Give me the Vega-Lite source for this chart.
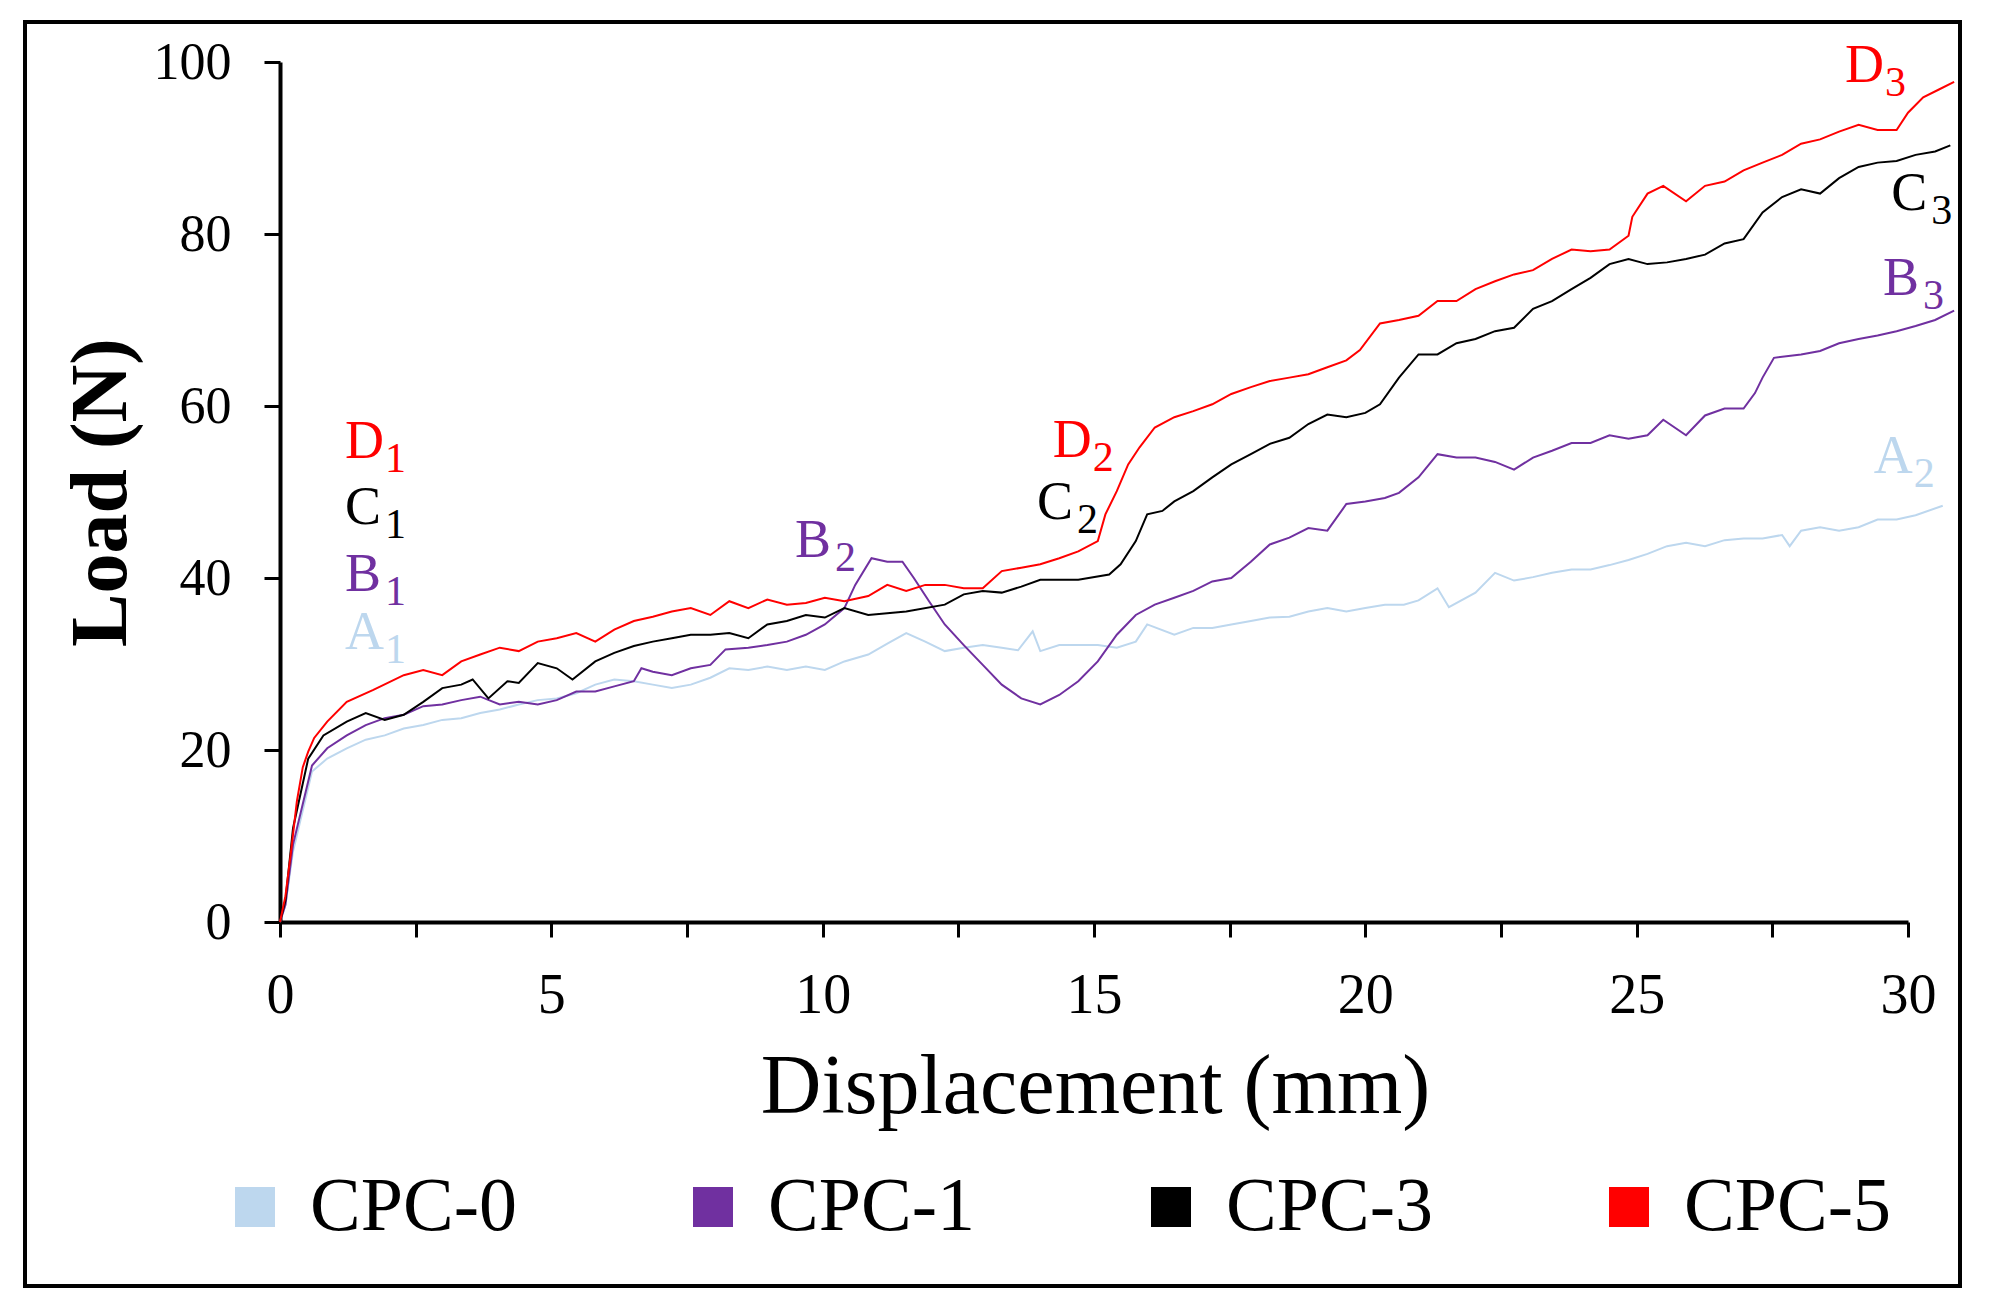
{
  "$schema": "https://vega.github.io/schema/vega-lite/v6.json",
  "description": "Load vs displacement for CPC-0, CPC-1, CPC-3 and CPC-5",
  "width": 1935,
  "height": 1264,
  "autosize": {"type": "none"},
  "padding": {"left": 25, "top": 22, "right": 40, "bottom": 27},
  "config": {
    "view": {"stroke": "#000000", "strokeWidth": 4},
    "font": "Liberation Serif",
    "axis": {"grid": false}
  },
  "datasets": {
    "curves": [
      {"s":"CPC-0","x":0,"y":0},{"s":"CPC-0","x":0.1,"y":2},{"s":"CPC-0","x":0.24,"y":8.2},{"s":"CPC-0","x":0.59,"y":17.5},
      {"s":"CPC-0","x":0.87,"y":19.0},{"s":"CPC-0","x":1.23,"y":20.2},{"s":"CPC-0","x":1.58,"y":21.2},{"s":"CPC-0","x":1.93,"y":21.7},
      {"s":"CPC-0","x":2.28,"y":22.5},{"s":"CPC-0","x":2.64,"y":22.9},{"s":"CPC-0","x":2.99,"y":23.5},{"s":"CPC-0","x":3.34,"y":23.7},
      {"s":"CPC-0","x":3.69,"y":24.3},{"s":"CPC-0","x":4.05,"y":24.7},{"s":"CPC-0","x":4.4,"y":25.3},{"s":"CPC-0","x":4.75,"y":25.8},
      {"s":"CPC-0","x":5.1,"y":26.0},{"s":"CPC-0","x":5.46,"y":26.6},{"s":"CPC-0","x":5.81,"y":27.6},{"s":"CPC-0","x":6.16,"y":28.2},
      {"s":"CPC-0","x":6.52,"y":28.0},{"s":"CPC-0","x":6.87,"y":27.6},{"s":"CPC-0","x":7.22,"y":27.2},{"s":"CPC-0","x":7.57,"y":27.6},
      {"s":"CPC-0","x":7.93,"y":28.4},{"s":"CPC-0","x":8.28,"y":29.5},{"s":"CPC-0","x":8.63,"y":29.3},{"s":"CPC-0","x":8.98,"y":29.7},
      {"s":"CPC-0","x":9.34,"y":29.3},{"s":"CPC-0","x":9.69,"y":29.7},{"s":"CPC-0","x":10.04,"y":29.3},{"s":"CPC-0","x":10.4,"y":30.3},
      {"s":"CPC-0","x":10.84,"y":31.1},{"s":"CPC-0","x":11.2,"y":32.4},{"s":"CPC-0","x":11.54,"y":33.6},{"s":"CPC-0","x":11.89,"y":32.6},
      {"s":"CPC-0","x":12.25,"y":31.5},{"s":"CPC-0","x":12.6,"y":31.9},{"s":"CPC-0","x":12.95,"y":32.2},{"s":"CPC-0","x":13.3,"y":31.9},
      {"s":"CPC-0","x":13.6,"y":31.6},{"s":"CPC-0","x":13.87,"y":33.8},{"s":"CPC-0","x":14.01,"y":31.5},{"s":"CPC-0","x":14.36,"y":32.2},
      {"s":"CPC-0","x":14.71,"y":32.2},{"s":"CPC-0","x":15.07,"y":32.2},{"s":"CPC-0","x":15.42,"y":31.9},{"s":"CPC-0","x":15.77,"y":32.6},
      {"s":"CPC-0","x":15.98,"y":34.6},{"s":"CPC-0","x":16.48,"y":33.4},{"s":"CPC-0","x":16.83,"y":34.2},{"s":"CPC-0","x":17.18,"y":34.2},
      {"s":"CPC-0","x":17.53,"y":34.6},{"s":"CPC-0","x":17.89,"y":35.0},{"s":"CPC-0","x":18.24,"y":35.4},{"s":"CPC-0","x":18.6,"y":35.5},
      {"s":"CPC-0","x":18.95,"y":36.1},{"s":"CPC-0","x":19.3,"y":36.5},{"s":"CPC-0","x":19.65,"y":36.1},{"s":"CPC-0","x":20.0,"y":36.5},
      {"s":"CPC-0","x":20.36,"y":36.9},{"s":"CPC-0","x":20.71,"y":36.9},{"s":"CPC-0","x":20.98,"y":37.4},{"s":"CPC-0","x":21.33,"y":38.8},
      {"s":"CPC-0","x":21.54,"y":36.6},{"s":"CPC-0","x":22.03,"y":38.3},{"s":"CPC-0","x":22.39,"y":40.6},{"s":"CPC-0","x":22.74,"y":39.7},
      {"s":"CPC-0","x":23.09,"y":40.1},{"s":"CPC-0","x":23.44,"y":40.6},{"s":"CPC-0","x":23.8,"y":41.0},{"s":"CPC-0","x":24.15,"y":41.0},
      {"s":"CPC-0","x":24.5,"y":41.5},{"s":"CPC-0","x":24.85,"y":42.1},{"s":"CPC-0","x":25.2,"y":42.8},{"s":"CPC-0","x":25.56,"y":43.7},
      {"s":"CPC-0","x":25.91,"y":44.1},{"s":"CPC-0","x":26.26,"y":43.7},{"s":"CPC-0","x":26.62,"y":44.4},{"s":"CPC-0","x":26.97,"y":44.6},
      {"s":"CPC-0","x":27.32,"y":44.6},{"s":"CPC-0","x":27.68,"y":45.0},{"s":"CPC-0","x":27.82,"y":43.7},{"s":"CPC-0","x":28.03,"y":45.5},
      {"s":"CPC-0","x":28.38,"y":45.9},{"s":"CPC-0","x":28.73,"y":45.5},{"s":"CPC-0","x":29.09,"y":45.9},{"s":"CPC-0","x":29.44,"y":46.8},
      {"s":"CPC-0","x":29.79,"y":46.8},{"s":"CPC-0","x":30.14,"y":47.3},{"s":"CPC-0","x":30.64,"y":48.4},

      {"s":"CPC-1","x":0,"y":0},{"s":"CPC-1","x":0.1,"y":2},{"s":"CPC-1","x":0.24,"y":9},{"s":"CPC-1","x":0.59,"y":18.2},
      {"s":"CPC-1","x":0.87,"y":20.2},{"s":"CPC-1","x":1.23,"y":21.7},{"s":"CPC-1","x":1.58,"y":22.9},{"s":"CPC-1","x":1.93,"y":23.7},
      {"s":"CPC-1","x":2.28,"y":24.1},{"s":"CPC-1","x":2.64,"y":25.1},{"s":"CPC-1","x":2.99,"y":25.3},{"s":"CPC-1","x":3.34,"y":25.8},
      {"s":"CPC-1","x":3.69,"y":26.2},{"s":"CPC-1","x":4.05,"y":25.3},{"s":"CPC-1","x":4.4,"y":25.6},{"s":"CPC-1","x":4.75,"y":25.3},
      {"s":"CPC-1","x":5.1,"y":25.8},{"s":"CPC-1","x":5.46,"y":26.8},{"s":"CPC-1","x":5.81,"y":26.8},{"s":"CPC-1","x":6.16,"y":27.4},
      {"s":"CPC-1","x":6.52,"y":28.0},{"s":"CPC-1","x":6.66,"y":29.5},{"s":"CPC-1","x":6.87,"y":29.1},{"s":"CPC-1","x":7.22,"y":28.7},
      {"s":"CPC-1","x":7.57,"y":29.5},{"s":"CPC-1","x":7.93,"y":29.9},{"s":"CPC-1","x":8.21,"y":31.7},{"s":"CPC-1","x":8.63,"y":31.9},
      {"s":"CPC-1","x":8.98,"y":32.2},{"s":"CPC-1","x":9.34,"y":32.6},{"s":"CPC-1","x":9.69,"y":33.4},{"s":"CPC-1","x":10.04,"y":34.6},
      {"s":"CPC-1","x":10.4,"y":36.5},{"s":"CPC-1","x":10.6,"y":39.2},{"s":"CPC-1","x":10.9,"y":42.3},{"s":"CPC-1","x":11.19,"y":41.9},
      {"s":"CPC-1","x":11.47,"y":41.9},{"s":"CPC-1","x":11.68,"y":40.0},{"s":"CPC-1","x":11.96,"y":37.3},{"s":"CPC-1","x":12.25,"y":34.6},
      {"s":"CPC-1","x":12.6,"y":32.2},{"s":"CPC-1","x":12.95,"y":29.9},{"s":"CPC-1","x":13.3,"y":27.6},{"s":"CPC-1","x":13.66,"y":26.0},
      {"s":"CPC-1","x":14.01,"y":25.3},{"s":"CPC-1","x":14.36,"y":26.4},{"s":"CPC-1","x":14.71,"y":28.0},{"s":"CPC-1","x":15.07,"y":30.3},
      {"s":"CPC-1","x":15.42,"y":33.4},{"s":"CPC-1","x":15.77,"y":35.7},{"s":"CPC-1","x":16.12,"y":36.9},{"s":"CPC-1","x":16.48,"y":37.7},
      {"s":"CPC-1","x":16.83,"y":38.5},{"s":"CPC-1","x":17.18,"y":39.6},{"s":"CPC-1","x":17.53,"y":40.0},{"s":"CPC-1","x":17.89,"y":41.9},
      {"s":"CPC-1","x":18.24,"y":43.9},{"s":"CPC-1","x":18.6,"y":44.7},{"s":"CPC-1","x":18.95,"y":45.8},{"s":"CPC-1","x":19.3,"y":45.5},
      {"s":"CPC-1","x":19.65,"y":48.6},{"s":"CPC-1","x":20.0,"y":48.9},{"s":"CPC-1","x":20.36,"y":49.3},{"s":"CPC-1","x":20.62,"y":49.9},
      {"s":"CPC-1","x":20.98,"y":51.7},{"s":"CPC-1","x":21.33,"y":54.4},{"s":"CPC-1","x":21.68,"y":54.0},{"s":"CPC-1","x":22.03,"y":54.0},
      {"s":"CPC-1","x":22.39,"y":53.5},{"s":"CPC-1","x":22.74,"y":52.6},{"s":"CPC-1","x":23.09,"y":54.0},{"s":"CPC-1","x":23.44,"y":54.8},
      {"s":"CPC-1","x":23.8,"y":55.7},{"s":"CPC-1","x":24.15,"y":55.7},{"s":"CPC-1","x":24.5,"y":56.6},{"s":"CPC-1","x":24.85,"y":56.2},
      {"s":"CPC-1","x":25.2,"y":56.6},{"s":"CPC-1","x":25.49,"y":58.4},{"s":"CPC-1","x":25.91,"y":56.6},{"s":"CPC-1","x":26.26,"y":58.9},
      {"s":"CPC-1","x":26.62,"y":59.7},{"s":"CPC-1","x":26.97,"y":59.7},{"s":"CPC-1","x":27.18,"y":61.5},{"s":"CPC-1","x":27.32,"y":63.3},
      {"s":"CPC-1","x":27.53,"y":65.6},{"s":"CPC-1","x":28.03,"y":66.0},{"s":"CPC-1","x":28.38,"y":66.4},{"s":"CPC-1","x":28.73,"y":67.3},
      {"s":"CPC-1","x":29.09,"y":67.8},{"s":"CPC-1","x":29.44,"y":68.2},{"s":"CPC-1","x":29.79,"y":68.7},{"s":"CPC-1","x":30.14,"y":69.3},
      {"s":"CPC-1","x":30.5,"y":70.0},{"s":"CPC-1","x":30.85,"y":71.1},

      {"s":"CPC-3","x":0,"y":0},{"s":"CPC-3","x":0.1,"y":2.5},{"s":"CPC-3","x":0.24,"y":10.9},{"s":"CPC-3","x":0.52,"y":19.0},
      {"s":"CPC-3","x":0.8,"y":21.7},{"s":"CPC-3","x":1.23,"y":23.3},{"s":"CPC-3","x":1.58,"y":24.3},{"s":"CPC-3","x":1.93,"y":23.5},
      {"s":"CPC-3","x":2.28,"y":24.1},{"s":"CPC-3","x":2.64,"y":25.6},{"s":"CPC-3","x":2.99,"y":27.2},{"s":"CPC-3","x":3.34,"y":27.6},
      {"s":"CPC-3","x":3.55,"y":28.2},{"s":"CPC-3","x":3.84,"y":26.0},{"s":"CPC-3","x":4.19,"y":28.0},{"s":"CPC-3","x":4.4,"y":27.8},
      {"s":"CPC-3","x":4.75,"y":30.1},{"s":"CPC-3","x":5.1,"y":29.5},{"s":"CPC-3","x":5.39,"y":28.2},{"s":"CPC-3","x":5.81,"y":30.3},
      {"s":"CPC-3","x":6.16,"y":31.3},{"s":"CPC-3","x":6.52,"y":32.1},{"s":"CPC-3","x":6.87,"y":32.6},{"s":"CPC-3","x":7.22,"y":33.0},
      {"s":"CPC-3","x":7.57,"y":33.4},{"s":"CPC-3","x":7.93,"y":33.4},{"s":"CPC-3","x":8.28,"y":33.6},{"s":"CPC-3","x":8.63,"y":33.0},
      {"s":"CPC-3","x":8.98,"y":34.6},{"s":"CPC-3","x":9.34,"y":35.0},{"s":"CPC-3","x":9.69,"y":35.7},{"s":"CPC-3","x":10.04,"y":35.4},
      {"s":"CPC-3","x":10.4,"y":36.5},{"s":"CPC-3","x":10.84,"y":35.7},{"s":"CPC-3","x":11.54,"y":36.1},{"s":"CPC-3","x":12.25,"y":36.9},
      {"s":"CPC-3","x":12.6,"y":38.1},{"s":"CPC-3","x":12.95,"y":38.5},{"s":"CPC-3","x":13.3,"y":38.3},{"s":"CPC-3","x":13.66,"y":39.0},
      {"s":"CPC-3","x":14.01,"y":39.8},{"s":"CPC-3","x":14.36,"y":39.8},{"s":"CPC-3","x":14.71,"y":39.8},{"s":"CPC-3","x":15.28,"y":40.4},
      {"s":"CPC-3","x":15.49,"y":41.6},{"s":"CPC-3","x":15.77,"y":44.3},{"s":"CPC-3","x":15.98,"y":47.4},{"s":"CPC-3","x":16.26,"y":47.8},
      {"s":"CPC-3","x":16.48,"y":48.9},{"s":"CPC-3","x":16.83,"y":50.1},{"s":"CPC-3","x":17.18,"y":51.7},{"s":"CPC-3","x":17.53,"y":53.2},
      {"s":"CPC-3","x":17.89,"y":54.4},{"s":"CPC-3","x":18.24,"y":55.6},{"s":"CPC-3","x":18.6,"y":56.3},{"s":"CPC-3","x":18.95,"y":57.9},
      {"s":"CPC-3","x":19.3,"y":59.0},{"s":"CPC-3","x":19.65,"y":58.7},{"s":"CPC-3","x":20.0,"y":59.2},{"s":"CPC-3","x":20.27,"y":60.2},
      {"s":"CPC-3","x":20.62,"y":63.3},{"s":"CPC-3","x":20.98,"y":66.0},{"s":"CPC-3","x":21.33,"y":66.0},{"s":"CPC-3","x":21.68,"y":67.3},
      {"s":"CPC-3","x":22.03,"y":67.8},{"s":"CPC-3","x":22.39,"y":68.7},{"s":"CPC-3","x":22.74,"y":69.1},{"s":"CPC-3","x":23.09,"y":71.3},
      {"s":"CPC-3","x":23.44,"y":72.2},{"s":"CPC-3","x":23.8,"y":73.6},{"s":"CPC-3","x":24.15,"y":74.9},{"s":"CPC-3","x":24.5,"y":76.5},
      {"s":"CPC-3","x":24.85,"y":77.1},{"s":"CPC-3","x":25.2,"y":76.5},{"s":"CPC-3","x":25.56,"y":76.7},{"s":"CPC-3","x":25.91,"y":77.1},
      {"s":"CPC-3","x":26.26,"y":77.6},{"s":"CPC-3","x":26.62,"y":78.9},{"s":"CPC-3","x":26.97,"y":79.4},{"s":"CPC-3","x":27.32,"y":82.5},
      {"s":"CPC-3","x":27.68,"y":84.3},{"s":"CPC-3","x":28.03,"y":85.2},{"s":"CPC-3","x":28.38,"y":84.7},{"s":"CPC-3","x":28.73,"y":86.5},
      {"s":"CPC-3","x":29.09,"y":87.8},{"s":"CPC-3","x":29.44,"y":88.3},{"s":"CPC-3","x":29.79,"y":88.5},{"s":"CPC-3","x":30.14,"y":89.2},
      {"s":"CPC-3","x":30.5,"y":89.6},{"s":"CPC-3","x":30.78,"y":90.3},

      {"s":"CPC-5","x":0,"y":0},{"s":"CPC-5","x":0.1,"y":3},{"s":"CPC-5","x":0.2,"y":8},{"s":"CPC-5","x":0.31,"y":14},
      {"s":"CPC-5","x":0.42,"y":18},{"s":"CPC-5","x":0.52,"y":19.8},{"s":"CPC-5","x":0.63,"y":21.4},{"s":"CPC-5","x":0.87,"y":23.3},
      {"s":"CPC-5","x":1.23,"y":25.6},{"s":"CPC-5","x":1.72,"y":27.0},{"s":"CPC-5","x":2.28,"y":28.7},{"s":"CPC-5","x":2.64,"y":29.3},
      {"s":"CPC-5","x":2.99,"y":28.7},{"s":"CPC-5","x":3.34,"y":30.3},{"s":"CPC-5","x":3.69,"y":31.1},{"s":"CPC-5","x":4.05,"y":31.9},
      {"s":"CPC-5","x":4.4,"y":31.5},{"s":"CPC-5","x":4.75,"y":32.6},{"s":"CPC-5","x":5.1,"y":33.0},{"s":"CPC-5","x":5.46,"y":33.6},
      {"s":"CPC-5","x":5.81,"y":32.6},{"s":"CPC-5","x":6.16,"y":34.0},{"s":"CPC-5","x":6.52,"y":35.0},{"s":"CPC-5","x":6.87,"y":35.5},
      {"s":"CPC-5","x":7.22,"y":36.1},{"s":"CPC-5","x":7.57,"y":36.5},{"s":"CPC-5","x":7.93,"y":35.7},{"s":"CPC-5","x":8.28,"y":37.3},
      {"s":"CPC-5","x":8.63,"y":36.5},{"s":"CPC-5","x":8.98,"y":37.5},{"s":"CPC-5","x":9.34,"y":36.9},{"s":"CPC-5","x":9.69,"y":37.1},
      {"s":"CPC-5","x":10.04,"y":37.7},{"s":"CPC-5","x":10.4,"y":37.3},{"s":"CPC-5","x":10.84,"y":37.9},{"s":"CPC-5","x":11.19,"y":39.2},
      {"s":"CPC-5","x":11.54,"y":38.5},{"s":"CPC-5","x":11.89,"y":39.2},{"s":"CPC-5","x":12.25,"y":39.2},{"s":"CPC-5","x":12.6,"y":38.8},
      {"s":"CPC-5","x":12.95,"y":38.8},{"s":"CPC-5","x":13.3,"y":40.8},{"s":"CPC-5","x":13.66,"y":41.2},{"s":"CPC-5","x":14.01,"y":41.6},
      {"s":"CPC-5","x":14.36,"y":42.3},{"s":"CPC-5","x":14.71,"y":43.1},{"s":"CPC-5","x":15.07,"y":44.3},{"s":"CPC-5","x":15.21,"y":47.4},
      {"s":"CPC-5","x":15.42,"y":50.1},{"s":"CPC-5","x":15.63,"y":53.2},{"s":"CPC-5","x":15.84,"y":55.2},{"s":"CPC-5","x":16.12,"y":57.5},
      {"s":"CPC-5","x":16.48,"y":58.7},{"s":"CPC-5","x":16.83,"y":59.4},{"s":"CPC-5","x":17.18,"y":60.2},{"s":"CPC-5","x":17.53,"y":61.4},
      {"s":"CPC-5","x":17.89,"y":62.2},{"s":"CPC-5","x":18.24,"y":62.9},{"s":"CPC-5","x":18.6,"y":63.3},{"s":"CPC-5","x":18.95,"y":63.7},
      {"s":"CPC-5","x":19.3,"y":64.5},{"s":"CPC-5","x":19.65,"y":65.3},{"s":"CPC-5","x":19.9,"y":66.5},{"s":"CPC-5","x":20.27,"y":69.6},
      {"s":"CPC-5","x":20.62,"y":70.0},{"s":"CPC-5","x":20.98,"y":70.5},{"s":"CPC-5","x":21.33,"y":72.2},{"s":"CPC-5","x":21.68,"y":72.2},
      {"s":"CPC-5","x":22.03,"y":73.6},{"s":"CPC-5","x":22.39,"y":74.5},{"s":"CPC-5","x":22.74,"y":75.3},{"s":"CPC-5","x":23.09,"y":75.8},
      {"s":"CPC-5","x":23.44,"y":77.1},{"s":"CPC-5","x":23.8,"y":78.2},{"s":"CPC-5","x":24.15,"y":78.0},{"s":"CPC-5","x":24.5,"y":78.2},
      {"s":"CPC-5","x":24.85,"y":79.8},{"s":"CPC-5","x":24.92,"y":82.0},{"s":"CPC-5","x":25.2,"y":84.7},{"s":"CPC-5","x":25.49,"y":85.6},
      {"s":"CPC-5","x":25.91,"y":83.8},{"s":"CPC-5","x":26.26,"y":85.6},{"s":"CPC-5","x":26.62,"y":86.1},{"s":"CPC-5","x":26.97,"y":87.4},
      {"s":"CPC-5","x":27.32,"y":88.3},{"s":"CPC-5","x":27.68,"y":89.2},{"s":"CPC-5","x":28.03,"y":90.5},{"s":"CPC-5","x":28.38,"y":91.0},
      {"s":"CPC-5","x":28.73,"y":91.9},{"s":"CPC-5","x":29.09,"y":92.7},{"s":"CPC-5","x":29.44,"y":92.1},{"s":"CPC-5","x":29.79,"y":92.1},
      {"s":"CPC-5","x":30.0,"y":94.1},{"s":"CPC-5","x":30.28,"y":95.9},{"s":"CPC-5","x":30.57,"y":96.8},{"s":"CPC-5","x":30.85,"y":97.7}
    ],
    "labels": [
      {"s":"CPC-5","lab":"D","sub":"1","x":1.2,"y":53.96},
      {"s":"CPC-3","lab":"C","sub":"1","x":1.2,"y":46.27},
      {"s":"CPC-1","lab":"B","sub":"1","x":1.2,"y":38.46},
      {"s":"CPC-0","lab":"A","sub":"1","x":1.2,"y":31.7},
      {"s":"CPC-1","lab":"B","sub":"2","x":9.49,"y":42.42},
      {"s":"CPC-5","lab":"D","sub":"2","x":14.24,"y":54.08},
      {"s":"CPC-3","lab":"C","sub":"2","x":13.95,"y":46.85},
      {"s":"CPC-5","lab":"D","sub":"3","x":28.84,"y":97.67},
      {"s":"CPC-3","lab":"C","sub":"3","x":29.69,"y":82.75},
      {"s":"CPC-1","lab":"B","sub":"3","x":29.54,"y":72.96},
      {"s":"CPC-0","lab":"A","sub":"2","x":29.37,"y":52.21}
    ]
  },
  "encoding": {
    "x": {
      "field": "x",
      "type": "quantitative",
      "scale": {"domain": [0, 30], "range": [255, 1883], "nice": false, "zero": false},
      "axis": {
        "title": "Displacement (mm)",
        "values": [0, 2.5, 5, 7.5, 10, 12.5, 15, 17.5, 20, 22.5, 25, 27.5, 30],
        "labelExpr": "datum.value % 5 === 0 ? format(datum.value, 'd') : ''",
        "offset": -364,
        "domainColor": "#000000",
        "domainWidth": 4,
        "tickColor": "#000000",
        "tickWidth": 3,
        "tickSize": 15,
        "labelFont": "Liberation Serif",
        "labelFontSize": 56,
        "labelColor": "#000000",
        "labelPadding": 31,
        "labelFlush": false,
        "labelOverlap": false,
        "titleFont": "Liberation Serif",
        "titleFontSize": 84,
        "titleFontWeight": "normal",
        "titleColor": "#000000",
        "titleX": 1070,
        "titleY": 190,
        "titleAlign": "center",
        "titleBaseline": "alphabetic"
      }
    },
    "y": {
      "field": "y",
      "type": "quantitative",
      "scale": {"domain": [0, 100], "range": [900, 40], "nice": false},
      "axis": {
        "title": "Load (N)",
        "values": [0, 20, 40, 60, 80, 100],
        "offset": -255,
        "domainColor": "#000000",
        "domainWidth": 4,
        "tickColor": "#000000",
        "tickWidth": 3,
        "tickSize": 16,
        "labelFont": "Liberation Serif",
        "labelFontSize": 52,
        "labelColor": "#000000",
        "labelPadding": 33,
        "labelFlush": false,
        "titleFont": "Liberation Serif",
        "titleFontSize": 80,
        "titleFontWeight": "bold",
        "titleColor": "#000000",
        "titleAngle": -90,
        "titleX": -155,
        "titleY": 470,
        "titleAlign": "center",
        "titleBaseline": "alphabetic"
      }
    },
    "color": {
      "field": "s",
      "type": "nominal",
      "scale": {
        "domain": ["CPC-0", "CPC-1", "CPC-3", "CPC-5"],
        "range": ["#BDD7EE", "#7030A0", "#000000", "#FF0000"]
      },
      "legend": {
        "title": null,
        "orient": "none",
        "legendX": 192,
        "legendY": 1147,
        "direction": "horizontal",
        "columns": 4,
        "gridAlign": "all",
        "columnPadding": 158,
        "padding": 0,
        "symbolType": "square",
        "symbolSize": 1600,
        "symbolStrokeWidth": 0,
        "labelFont": "Liberation Serif",
        "labelFontSize": 76,
        "labelColor": "#000000",
        "labelOffset": 17,
        "labelLimit": 0,
        "encode": {
          "symbols": {
            "update": {
              "fill": {"scale": "color", "field": "value"},
              "stroke": {"value": "transparent"},
              "opacity": {"value": 1}
            }
          }
        }
      }
    }
  },
  "layer": [
    {
      "data": {"name": "curves"},
      "mark": {"type": "line", "strokeWidth": 2}
    },
    {
      "data": {"name": "labels"},
      "mark": {"type": "text", "align": "left", "baseline": "alphabetic", "font": "Liberation Serif", "fontSize": 54},
      "encoding": {"text": {"field": "lab", "type": "nominal"}}
    },
    {
      "data": {"name": "labels"},
      "mark": {"type": "text", "align": "left", "baseline": "alphabetic", "font": "Liberation Serif", "fontSize": 42, "dx": 40, "dy": 14},
      "encoding": {"text": {"field": "sub", "type": "nominal"}}
    }
  ]
}
